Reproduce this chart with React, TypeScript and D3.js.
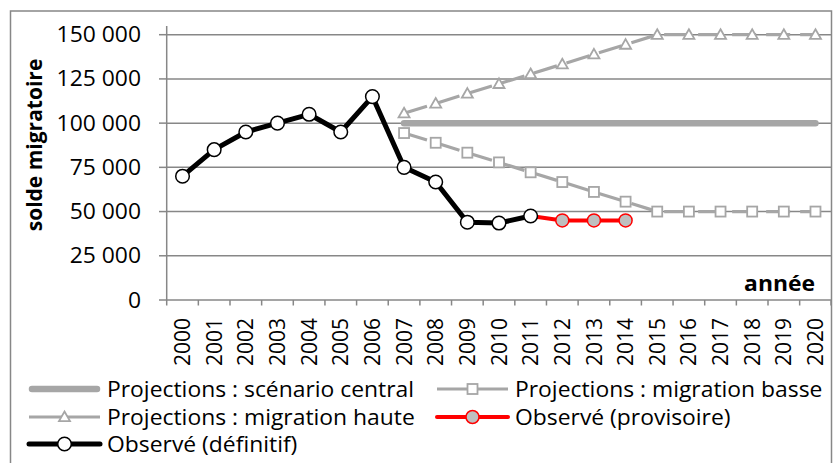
import React from "react";
import * as d3 from "d3";

const years = ["2000","2001","2002","2003","2004","2005","2006","2007","2008","2009","2010","2011","2012","2013","2014","2015","2016","2017","2018","2019","2020"];
const yTicks = [0, 25000, 50000, 75000, 100000, 125000, 150000];

const definitif: [string, number][] = [
  ["2000", 70000], ["2001", 85000], ["2002", 95000], ["2003", 100000], ["2004", 105000],
  ["2005", 95000], ["2006", 115000], ["2007", 75000], ["2008", 66700], ["2009", 44000],
  ["2010", 43500], ["2011", 47500],
];
const provisoire: [string, number][] = [
  ["2011", 47500], ["2012", 45000], ["2013", 45000], ["2014", 45000],
];
const central: [string, number][] = [
  ["2007", 100000], ["2008", 100000], ["2009", 100000], ["2010", 100000], ["2011", 100000],
  ["2012", 100000], ["2013", 100000], ["2014", 100000], ["2015", 100000], ["2016", 100000],
  ["2017", 100000], ["2018", 100000], ["2019", 100000], ["2020", 100000],
];
const basse: [string, number][] = [
  ["2007", 94400], ["2008", 88900], ["2009", 83300], ["2010", 77800], ["2011", 72200],
  ["2012", 66700], ["2013", 61100], ["2014", 55600], ["2015", 50000], ["2016", 50000],
  ["2017", 50000], ["2018", 50000], ["2019", 50000], ["2020", 50000],
];
const haute: [string, number][] = [
  ["2007", 105600], ["2008", 111100], ["2009", 116700], ["2010", 122200], ["2011", 127800],
  ["2012", 133300], ["2013", 138900], ["2014", 144400], ["2015", 150000], ["2016", 150000],
  ["2017", 150000], ["2018", 150000], ["2019", 150000], ["2020", 150000],
];

const FONT = "'Open Sans', Lato, sans-serif";
const GRID = "#878787";
const LGREY = "#a6a6a6";
const SX = 1.09;

export default function App() {
  const x = d3.scaleBand<string>().domain(years).range([166.7, 831.3]);
  const y = d3.scaleLinear().domain([0, 150000]).range([300, 34.7]);
  const cx = (d: string) => (x(d) as number) + x.bandwidth() / 2;
  const line = d3.line<[string, number]>().x((d) => cx(d[0])).y((d) => y(d[1]));
  const fmt = (v: number) => d3.format(",")(v).replace(/,/g, " ");

  const tri = (px: number, py: number) => {
    const s = 5.5;
    return `M${px},${py - s}L${px + s},${py + s * 0.75}L${px - s},${py + s * 0.75}Z`;
  };

  const legend = [
    { col: 0, row: 0, label: "Projections : scénario central", kind: "central" },
    { col: 1, row: 0, label: "Projections : migration basse", kind: "basse" },
    { col: 0, row: 1, label: "Projections : migration haute", kind: "haute" },
    { col: 1, row: 1, label: "Observé (provisoire)", kind: "prov" },
    { col: 0, row: 2, label: "Observé (définitif)", kind: "def" },
  ];
  const lx = [29, 437];
  const ly = [389, 417, 444];

  return (
    <svg width={833} height={463} style={{ position: "absolute", left: 0, top: 0, background: "#fff" }} fontFamily={FONT}>
      <rect x={10.5} y={11} width={821} height={470} fill="#fff" stroke={GRID} strokeWidth={1.5} />
      {yTicks.map((t) => (
        <g key={t}>
          {t > 0 && <line x1={166.7} x2={831} y1={y(t)} y2={y(t)} stroke={GRID} strokeWidth={1.5} />}
          <line x1={159} x2={166.7} y1={y(t)} y2={y(t)} stroke={GRID} strokeWidth={1.5} />
          <text transform={`translate(141,${y(t)}) scale(${SX},1)`} dy="0.36em" textAnchor="end" fontSize={21} fill="#000">{fmt(t)}</text>
        </g>
      ))}
      <line x1={166.7} x2={166.7} y1={26} y2={300} stroke={GRID} strokeWidth={1.5} />
      <line x1={166.7} x2={831} y1={300} y2={300} stroke={GRID} strokeWidth={1.5} />
      {years.map((yr) => (
        <line key={yr} x1={(x(yr) as number)} x2={(x(yr) as number)} y1={300} y2={305.5} stroke={GRID} strokeWidth={1.5} />
      ))}
      <line x1={831} x2={831} y1={300} y2={305.5} stroke={GRID} strokeWidth={1.5} />
      {years.map((yr) => (
        <text key={yr} transform={`translate(${cx(yr)},318) rotate(-90)`} dy="0.36em" textAnchor="end" fontSize={21} fill="#000">{yr}</text>
      ))}
      <text transform={`translate(815,290.5) scale(${SX},1)`} textAnchor="end" fontSize={21} fontWeight="bold" fill="#000">année</text>
      <text transform="translate(34,145) rotate(-90)" dy="0.36em" textAnchor="middle" fontSize={21} fontWeight="bold" fill="#000">solde migratoire</text>

      <path d={line(central) as string} fill="none" stroke={LGREY} strokeWidth={6.5} strokeLinecap="round" />
      <path d={line(basse) as string} fill="none" stroke={LGREY} strokeWidth={3.2} strokeDasharray="24 10" />
      {basse.map((d) => (
        <rect key={d[0]} x={cx(d[0]) - 5} y={y(d[1]) - 5} width={10} height={10} fill="#fff" stroke={LGREY} strokeWidth={1.8} />
      ))}
      <path d={line(haute) as string} fill="none" stroke={LGREY} strokeWidth={3.2} strokeDasharray="24 10" />
      {haute.map((d) => (
        <path key={d[0]} d={tri(cx(d[0]), y(d[1]))} fill="#fff" stroke={LGREY} strokeWidth={1.8} />
      ))}
      <path d={line(provisoire) as string} fill="none" stroke="#ff0000" strokeWidth={4} />
      {provisoire.slice(1).map((d) => (
        <circle key={d[0]} cx={cx(d[0])} cy={y(d[1])} r={6.5} fill="#bfbfbf" stroke="#ff0000" strokeWidth={1.5} />
      ))}
      <path d={line(definitif) as string} fill="none" stroke="#000" strokeWidth={5} strokeLinejoin="round" />
      {definitif.map((d) => (
        <circle key={d[0]} cx={cx(d[0])} cy={y(d[1])} r={6.8} fill="#fff" stroke="#000" strokeWidth={1.5} />
      ))}

      {legend.map((l) => {
        const x0 = lx[l.col];
        const x1 = x0 + 71;
        const yy = ly[l.row];
        const mx = (x0 + x1) / 2;
        return (
          <g key={l.label}>
            {l.kind === "central" && <line x1={x0 + 3} x2={x1 - 3} y1={yy} y2={yy} stroke={LGREY} strokeWidth={6.5} strokeLinecap="round" />}
            {l.kind === "basse" && (
              <g>
                <line x1={x0} x2={x1} y1={yy} y2={yy} stroke={LGREY} strokeWidth={3} />
                <rect x={mx - 5} y={yy - 5} width={10} height={10} fill="#fff" stroke={LGREY} strokeWidth={1.8} />
              </g>
            )}
            {l.kind === "haute" && (
              <g>
                <line x1={x0} x2={x1} y1={yy} y2={yy} stroke={LGREY} strokeWidth={3} />
                <path d={tri(mx, yy)} fill="#fff" stroke={LGREY} strokeWidth={1.8} />
              </g>
            )}
            {l.kind === "prov" && (
              <g>
                <line x1={x0} x2={x1} y1={yy} y2={yy} stroke="#ff0000" strokeWidth={4} strokeLinecap="round" />
                <circle cx={mx} cy={yy} r={6.5} fill="#bfbfbf" stroke="#ff0000" strokeWidth={1.5} />
              </g>
            )}
            {l.kind === "def" && (
              <g>
                <line x1={x0} x2={x1} y1={yy} y2={yy} stroke="#000" strokeWidth={5} strokeLinecap="round" />
                <circle cx={mx} cy={yy} r={6.8} fill="#fff" stroke="#000" strokeWidth={1.5} />
              </g>
            )}
            <text transform={`translate(${x1 + 7},${yy}) scale(${SX},1)`} dy="0.36em" fontSize={21} fill="#000">{l.label}</text>
          </g>
        );
      })}
    </svg>
  );
}
